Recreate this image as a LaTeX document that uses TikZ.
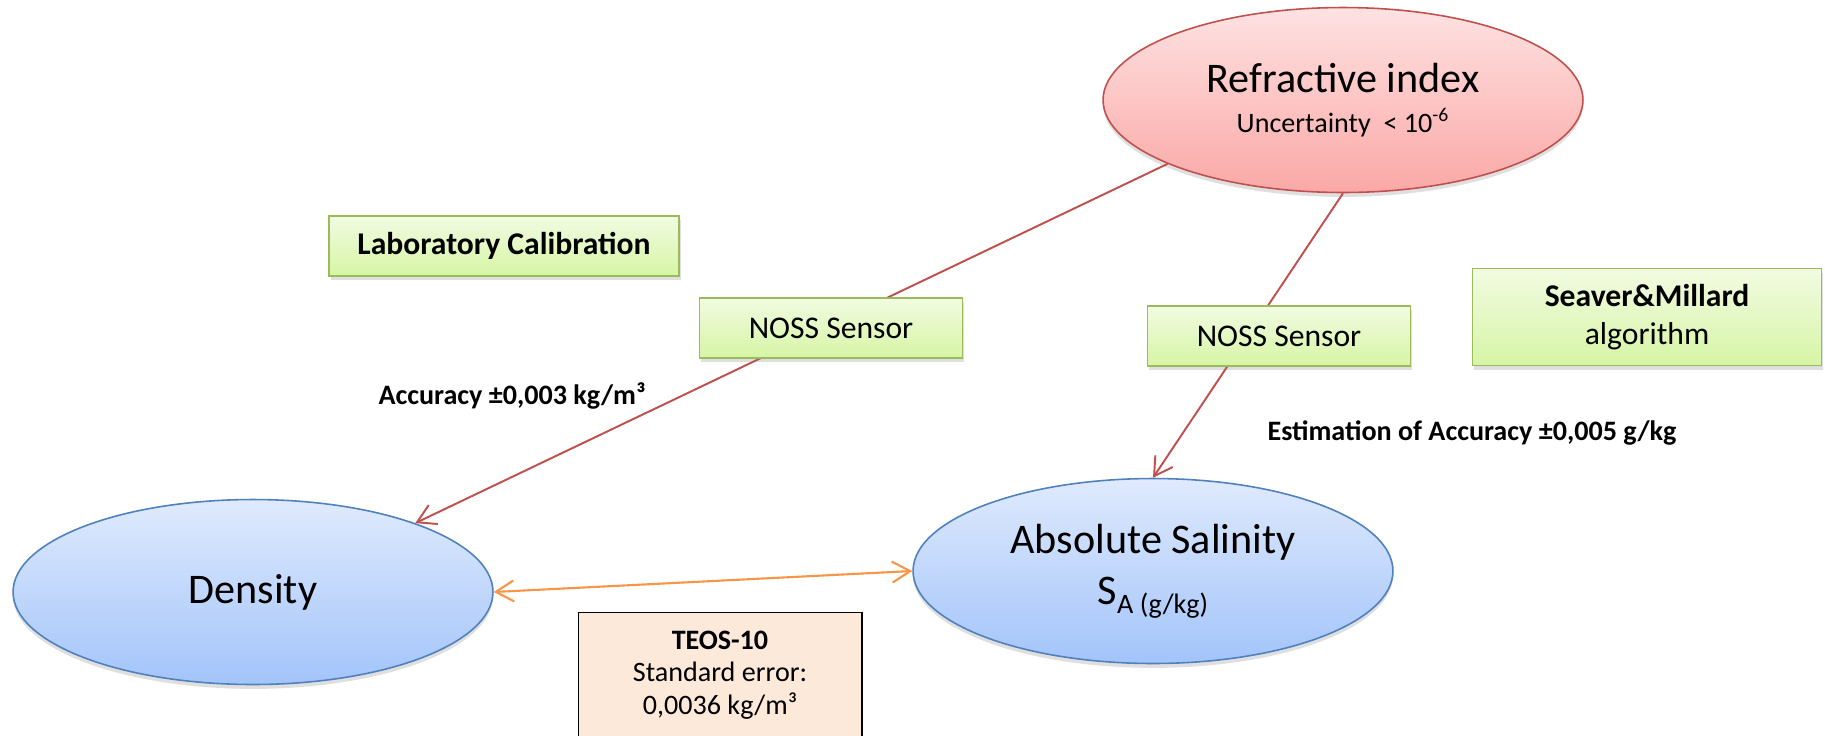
\documentclass[tikz,border=0pt]{standalone}
\usepackage{fontspec}
\setmainfont{Carlito}
\usetikzlibrary{shapes.geometric,arrows.meta,shadows}

\definecolor{RedEdge}{RGB}{192,80,77}
\definecolor{RedTop}{RGB}{254,226,226}
\definecolor{RedBottom}{RGB}{250,168,166}
\definecolor{BlueEdge}{RGB}{79,129,189}
\definecolor{BlueTop}{RGB}{223,234,253}
\definecolor{BlueBottom}{RGB}{163,196,250}
\definecolor{GreenEdge}{RGB}{155,187,89}
\definecolor{GreenTop}{RGB}{242,251,226}
\definecolor{GreenBottom}{RGB}{214,245,165}
\definecolor{OrangeLine}{RGB}{247,150,70}
\definecolor{TeosFill}{RGB}{252,233,217}

\begin{document}
\begin{tikzpicture}[x=0.02cm, y=-0.02cm, >={Straight Barb[length=3.6mm,width=4.2mm]},
  oval/.style={ellipse, minimum width=9.6cm, minimum height=3.7cm, inner sep=0pt, align=center, line width=0.9pt,
    font=\fontsize{24}{29}\selectfont, drop shadow={opacity=0.25, shadow xshift=0pt, shadow yshift=-2.5pt}},
  blueoval/.style={oval, draw=BlueEdge, top color=BlueTop, bottom color=BlueBottom},
  redoval/.style={oval, draw=RedEdge, top color=RedTop, bottom color=RedBottom},
  greenbox/.style={rectangle, draw=GreenEdge, line width=0.8pt, top color=GreenTop, bottom color=GreenBottom, inner sep=0pt,
    align=center, font=\fontsize{18}{22}\selectfont, drop shadow={opacity=0.25, shadow xshift=1pt, shadow yshift=-2.5pt}},
  accnote/.style={font=\fontsize{16}{19}\selectfont\bfseries},
  sensorline/.style={RedEdge, line width=1.1pt, ->}]
\path[use as bounding box, fill=white] (0,0) rectangle (1825,735);
\clip (0,0) rectangle (1825,735);

% the three quantities
\node[redoval] (Refraction) at (1343,0100) {Refractive index\\[-6pt]{\fontsize{16}{19}\selectfont Uncertainty\ \ < 10\textsuperscript{-6}}};
\node[blueoval] (Density) at (0253,0592) {Density};
\node[blueoval] (Salinity) at (1153,0571) {Absolute Salinity\\S\raisebox{-5pt}{\fontsize{16}{16}\selectfont A (g/kg)}};

\draw[sensorline] (Refraction.200) -- (Density.23);
\draw[sensorline] (Refraction.south) -- (Salinity.north);
\draw[OrangeLine, line width=1.2pt, <->] (Density.east) -- (Salinity.west);

% the boxes on top of the lines
\node[greenbox, minimum width=7cm, minimum height=1.2cm, font=\fontsize{18}{22}\selectfont\bfseries] (LabCal) at (0504,0246) {Laboratory Calibration};
\node[greenbox, minimum width=5.26cm, minimum height=1.2cm] (SensorA) at (0831,0328) {NOSS Sensor};
\node[greenbox, minimum width=5.26cm, minimum height=1.2cm] (SensorB) at (1279,0336) {NOSS Sensor};
\node[greenbox, minimum width=6.98cm, minimum height=1.94cm] (Seaver) at (1647,0317) {\textbf{Seaver\&Millard}\\algorithm};
\node[draw=black, line width=0.6pt, fill=TeosFill, minimum width=5.68cm, minimum height=2.5cm, inner sep=0pt, align=center,
  font=\fontsize{16}{18.5}\selectfont] (Teos) at (0720,0675) {\textbf{TEOS-10}\\Standard error:\\0,0036 kg/m³};

\node[accnote] (DensityAcc) at (0512,0396) {Accuracy ±0,003 kg/m³};
\node[accnote] (SalinityAcc) at (1472,0433) {Estimation of Accuracy ±0,005 g/kg};
\end{tikzpicture}
\end{document}
